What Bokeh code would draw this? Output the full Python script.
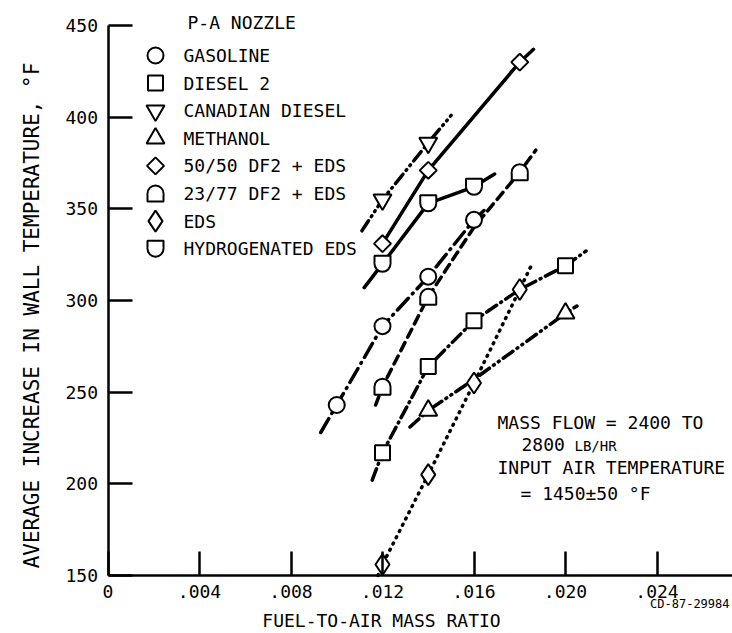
import math
from bokeh.plotting import figure
from bokeh.models import Label, FixedTicker, CustomJSTickFormatter, Range1d
from bokeh.embed import file_html
from bokeh.resources import INLINE

FONT = "DejaVu Sans Mono"

# ---------------- data ----------------
x_ticks = [0.0, 0.004, 0.008, 0.012, 0.016, 0.020, 0.024]
x_tick_labels = ["0", ".004", ".008", ".012", ".016", ".020", ".024"]
y_ticks = [150, 200, 250, 300, 350, 400, 450]

legend_title = "P-A NOZZLE"
series_names = ["GASOLINE", "DIESEL 2", "CANADIAN DIESEL", "METHANOL",
                "50/50 DF2 + EDS", "23/77 DF2 + EDS", "EDS", "HYDROGENATED EDS"]

gasoline_x = [0.010, 0.012, 0.014, 0.016]
gasoline_y = [243, 286, 313, 344]
gasoline_curve_x = [0.0093, 0.010, 0.012, 0.014, 0.016, 0.0166]
gasoline_curve_y = [228, 243, 286, 313, 344, 351]

diesel2_x = [0.012, 0.014, 0.016, 0.020]
diesel2_y = [217, 264, 289, 319]
diesel2_curve_x = [0.01155, 0.012, 0.014, 0.016, 0.018, 0.020, 0.0209]
diesel2_curve_y = [202, 217, 264, 289, 306, 319, 327]

canadian_x = [0.012, 0.014]
canadian_y = [355, 386]
canadian_curve_x = [0.0111, 0.012, 0.014, 0.0150]
canadian_curve_y = [338, 355, 386, 401]

methanol_x = [0.014, 0.020]
methanol_y = [240, 293]
methanol_curve_x = [0.0132, 0.014, 0.016, 0.020, 0.0205]
methanol_curve_y = [231, 240, 257, 293, 297]

blend5050_x = [0.012, 0.014, 0.018]
blend5050_y = [331, 371, 430]
blend5050_curve_x = [0.012, 0.014, 0.018, 0.0186]
blend5050_curve_y = [331, 371, 430, 437]

blend2377_x = [0.012, 0.014, 0.018]
blend2377_y = [253, 302, 370]
blend2377_curve_x = [0.0117, 0.012, 0.014, 0.016, 0.018, 0.0187]
blend2377_curve_y = [243, 253, 302, 340, 370, 382]

eds_x = [0.012, 0.014, 0.016, 0.018]
eds_y = [156, 205, 255, 306]
eds_curve_x = [0.0118, 0.012, 0.014, 0.016, 0.018, 0.0185]
eds_curve_y = [150, 156, 205, 255, 306, 319]

hydro_x = [0.012, 0.014, 0.016]
hydro_y = [320, 353, 362]
hydro_curve_x = [0.0112, 0.012, 0.014, 0.016, 0.0169]
hydro_curve_y = [307, 320, 353, 362, 369]

x_title = "FUEL-TO-AIR MASS RATIO"
y_title = "AVERAGE INCREASE IN WALL TEMPERATURE, \u00b0F"
figure_id = "CD-87-29984"
note_lines = ["MASS FLOW = 2400 TO", "2800", "LB/HR", "INPUT AIR TEMPERATURE", "= 1450\u00b150 \u00b0F"]

# ---------------- styling / layout ----------------
series_kinds = ["circle", "square", "inverted_triangle", "triangle",
                "diamond45", "dome", "diamond", "cup"]
series_dash = ["16 6 1 6", "12 5 1 5", "12 5 1 5 1 5", "12 5 1 5 1 5",
               "solid", "9 6", "1 6", "solid"]

points = [(gasoline_x, gasoline_y), (diesel2_x, diesel2_y), (canadian_x, canadian_y),
          (methanol_x, methanol_y), (blend5050_x, blend5050_y), (blend2377_x, blend2377_y),
          (eds_x, eds_y), (hydro_x, hydro_y)]
curves = [(gasoline_curve_x, gasoline_curve_y), (diesel2_curve_x, diesel2_curve_y),
          (canadian_curve_x, canadian_curve_y), (methanol_curve_x, methanol_curve_y),
          (blend5050_curve_x, blend5050_curve_y), (blend2377_curve_x, blend2377_curve_y),
          (eds_curve_x, eds_curve_y), (hydro_curve_x, hydro_curve_y)]

# frame covers the whole canvas; axes are pinned inside it
W, H = 732, 632
AX_LEFT_PX, AX_BOTTOM_PX = 107.5, 575.0      # pixel position of x=0 / y=150
PPX = 22875.0                                 # pixels per unit of x
PPY = 550.0 / 300.0                           # pixels per unit of y
X0 = -AX_LEFT_PX / PPX
X1 = (W - AX_LEFT_PX) / PPX
Y0 = 150 - (H - AX_BOTTOM_PX) / PPY
Y1 = 150 + AX_BOTTOM_PX / PPY


def dx(px):
    return (px - AX_LEFT_PX) / PPX


def dy(py):
    return 150 + (AX_BOTTOM_PX - py) / PPY


p = figure(frame_width=W, frame_height=H,
           min_border_left=0, min_border_right=0, min_border_top=0, min_border_bottom=0,
           x_range=Range1d(X0, X1), y_range=Range1d(Y0, Y1),
           output_backend="svg", toolbar_location=None)
p.xgrid.visible = False
p.ygrid.visible = False
p.outline_line_color = None
p.background_fill_color = "white"
p.border_fill_color = "white"

for ax in (p.xaxis[0], p.yaxis[0]):
    ax.axis_line_width = 2.5
    ax.axis_line_color = "black"
    ax.major_tick_line_width = 2.5
    ax.major_tick_line_color = "black"
    ax.major_tick_in = 24
    ax.major_tick_out = 0
    ax.minor_tick_line_color = None
    ax.major_label_text_font = FONT
    ax.major_label_text_font_size = "18px"
    ax.major_label_text_color = "black"

p.yaxis.fixed_location = 0.0
p.yaxis.bounds = (150, 450)
p.yaxis.ticker = FixedTicker(ticks=y_ticks)
p.yaxis.major_label_standoff = 10

p.xaxis.fixed_location = 150
p.xaxis.bounds = (0.0, X1)
p.xaxis.ticker = FixedTicker(ticks=x_ticks)
p.xaxis.major_label_standoff = 9
p.xaxis.formatter = CustomJSTickFormatter(args=dict(tvals=x_ticks, tlabels=x_tick_labels), code="""
let best = 0;
for (let i = 0; i < tvals.length; i++) {
  if (Math.abs(tvals[i] - tick) < Math.abs(tvals[best] - tick)) best = i;
}
return tlabels[best];
""")

LW = 2


def draw_symbol(kind, xs, ys):
    common = dict(fill_color="white", line_color="black", line_width=LW)
    if kind == "circle":
        p.scatter(xs, ys, marker="circle", size=16, **common)
    elif kind == "square":
        p.scatter(xs, ys, marker="square", size=15, **common)
    elif kind == "triangle":
        p.scatter(xs, ys, marker="triangle", size=18, **common)
    elif kind == "inverted_triangle":
        p.scatter(xs, ys, marker="inverted_triangle", size=18, **common)
    elif kind == "diamond45":
        p.scatter(xs, ys, marker="square", size=12, angle=math.pi / 4, **common)
    elif kind == "diamond":
        p.scatter(xs, ys, marker="diamond", size=21, **common)
    else:
        r = 8
        sgn = 1 if kind == "dome" else -1
        off = (r / 2) / PPY
        start, end = (0, math.pi) if kind == "dome" else (math.pi, 2 * math.pi)
        p.rect(xs, [y - sgn * off for y in ys], width=2 * r, height=r,
               width_units="screen", height_units="screen", **common)
        p.wedge(xs, ys, radius=r, radius_units="screen", start_angle=start, end_angle=end,
                fill_color="white", line_color=None)
        p.rect(xs, ys, width=2 * r - LW, height=LW + 1.5,
               width_units="screen", height_units="screen", fill_color="white", line_color=None)
        p.arc(xs, ys, radius=r, radius_units="screen", start_angle=start, end_angle=end,
              line_color="black", line_width=LW)


# curves first
for (cx, cy), dash in zip(curves, series_dash):
    p.line(cx, cy, line_color="black", line_width=3.5, line_dash=dash,
           line_cap="round", line_join="round")

# markers
for (mx, my), kind in zip(points, series_kinds):
    draw_symbol(kind, mx, my)


def text(px, py, txt, size="18px", align="left", angle=0.0):
    p.add_layout(Label(x=dx(px), y=dy(py), text=txt, text_font=FONT, text_font_size=size,
                       text_baseline="middle", text_align=align, text_color="black",
                       angle=angle))


# manual legend
LEG_DY_PX = 27.6
for i, (name, kind) in enumerate(zip(series_names, series_kinds)):
    row_py = 55 + i * LEG_DY_PX
    draw_symbol(kind, [dx(155)], [dy(row_py)])
    text(183, row_py, name)
text(187, 21.5, legend_title)

# note block
text(497, 422, note_lines[0])
text(521, 444, note_lines[1])
text(574, 445, note_lines[2], "14px")
text(497, 467, note_lines[3])
text(520, 493, note_lines[4])

# axis titles and figure id
text(381, 620, x_title, align="center")
text(31, 315, y_title, size="21px", align="center", angle=math.pi / 2)
text(729, 603, figure_id, size="12px", align="right")

open("out.html", "w").write(file_html(p, INLINE, title="P-A nozzle wall temperature"))
